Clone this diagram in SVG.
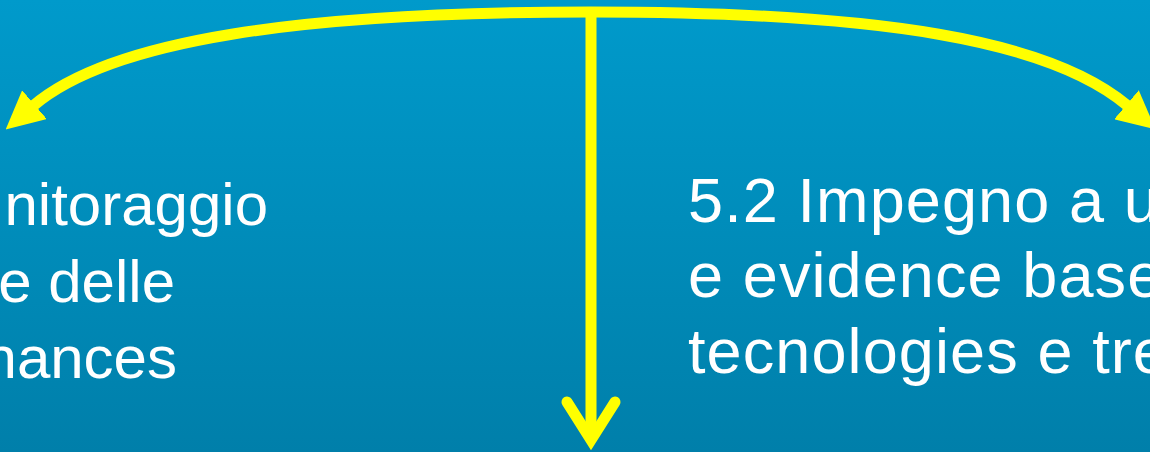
<svg xmlns="http://www.w3.org/2000/svg" width="1150" height="452" viewBox="0 0 1150 452">
  <defs>
    <linearGradient id="bg" x1="0" y1="0" x2="0" y2="1">
      <stop offset="0" stop-color="#009ACB"/>
      <stop offset="1" stop-color="#007FAA"/>
    </linearGradient>
    <marker id="tri" viewBox="0 0 38 38" refX="2" refY="19" markerWidth="38" markerHeight="38" markerUnits="userSpaceOnUse" orient="auto">
      <path d="M0,0 L38,19 L0,38 Z" fill="#FFFF00"/>
    </marker>
    <style>
      .conn { fill: none; stroke: #FFFF00; stroke-width: 11; }
      .lbl { font-family: "Liberation Sans", Arial, sans-serif; font-size: 60px; fill: #FFFFFF; }
      .lblr { font-family: "Liberation Sans", Arial, sans-serif; font-size: 63px; letter-spacing: 1.1px; fill: #FFFFFF; }
    </style>
  </defs>
  <rect x="0" y="0" width="1150" height="452" fill="url(#bg)"/>
  <g id="connectors">
    <path class="conn" d="M591,12 C300,12 110,40 33,106" marker-end="url(#tri)"/>
    <path class="conn" d="M591,12 C880,12 1050,40 1128,106" marker-end="url(#tri)"/>
    <path class="conn" d="M591,12 L591,440"/>
    <path class="conn" d="M567,402 L591,440 L615,402" stroke-linecap="round" stroke-linejoin="miter" stroke-miterlimit="10"/>
  </g>
  <g id="node-left">
    <text class="lbl" x="268" y="225" text-anchor="end">nitoraggio</text>
    <text class="lbl" x="175" y="302" text-anchor="end">e delle</text>
    <text class="lbl" x="177" y="378" text-anchor="end">nances</text>
  </g>
  <g id="node-right">
    <text class="lblr" x="688" y="222">5.2 Impegno a u</text>
    <text class="lblr" x="688" y="297">e evidence based</text>
    <text class="lblr" x="688" y="373">tecnologies e tre</text>
  </g>
</svg>
